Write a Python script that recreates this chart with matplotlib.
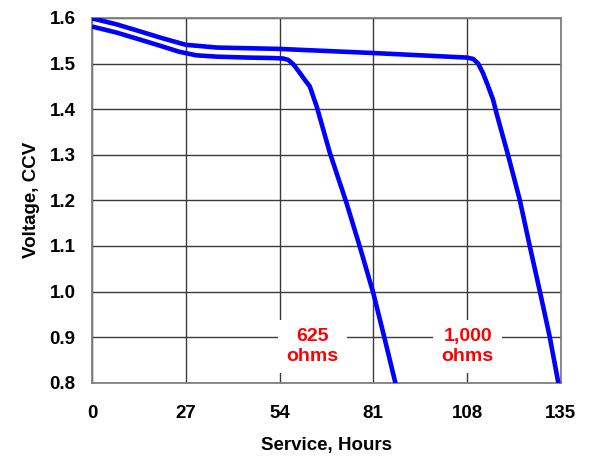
import matplotlib.pyplot as plt

# 625 ohms discharge curve
hours_625 = [0, 7, 14, 20, 25, 30, 36, 45, 52, 55, 56.5, 58, 59.5, 61, 62.7, 64.7, 68.5, 73.3, 77.1, 81.0, 84.5, 88]
volts_625 = [1.581, 1.568, 1.552, 1.538, 1.526, 1.518, 1.515, 1.513, 1.512, 1.511, 1.508, 1.498, 1.483, 1.467, 1.450, 1.406, 1.304, 1.194, 1.099, 0.997, 0.890, 0.780]

# 1,000 ohms discharge curve
hours_1000 = [0, 7, 14, 20, 27, 36, 54, 81, 108, 109.8, 111.2, 112.6, 114, 115.5, 116.5, 119.8, 123.2, 126.1, 129.0, 131.8, 134.8]
volts_1000 = [1.599, 1.586, 1.570, 1.556, 1.541, 1.535, 1.532, 1.523, 1.513, 1.510, 1.500, 1.479, 1.452, 1.421, 1.391, 1.300, 1.201, 1.099, 1.000, 0.902, 0.780]

x_ticks = [0, 27, 54, 81, 108, 135]
y_ticks = [0.8, 0.9, 1.0, 1.1, 1.2, 1.3, 1.4, 1.5, 1.6]

plt.rcParams['font.family'] = ['Liberation Sans', 'DejaVu Sans']

fig = plt.figure(figsize=(5.94, 4.59), dpi=100)
ax = fig.add_axes([0.155, 0.166, 0.789, 0.795])

ax.plot(hours_625, volts_625, color="#0000ff", lw=3.3, solid_capstyle="butt", solid_joinstyle="round", zorder=3)
ax.plot(hours_1000, volts_1000, color="#0000ff", lw=3.3, solid_capstyle="butt", solid_joinstyle="round", zorder=3)

ax.set_xlim(0, 135)
ax.set_ylim(0.8, 1.6)
ax.set_xticks(x_ticks)
ax.set_yticks(y_ticks)
ax.set_yticklabels(["%.1f" % v for v in y_ticks])
ax.tick_params(length=0, labelsize=13.5)
ax.tick_params(axis="x", pad=16)
ax.tick_params(axis="y", pad=12)
for lab in ax.get_xticklabels() + ax.get_yticklabels():
    lab.set_fontweight("bold")

ax.grid(True, color="#3a3a3a", lw=1.0)
ax.set_axisbelow(True)
for sp in ax.spines.values():
    sp.set_color("#808080")
    sp.set_linewidth(1.3)

ax.set_xlabel("Service, Hours", fontsize=13.5, weight="bold", labelpad=11)
ax.set_ylabel("Voltage, CCV", fontsize=13.5, weight="bold", labelpad=7)

# curve labels
box = dict(facecolor="white", edgecolor="none", pad=6)
ax.text(63.4, 0.880, "625\nohms", color="red", fontsize=14, weight="bold",
        ha="center", va="center", linespacing=1.2, bbox=box, zorder=2)
ax.text(108.2, 0.880, "1,000\nohms", color="red", fontsize=14, weight="bold",
        ha="center", va="center", linespacing=1.2, bbox=box, zorder=2)

fig.savefig("out.png", dpi=100)
